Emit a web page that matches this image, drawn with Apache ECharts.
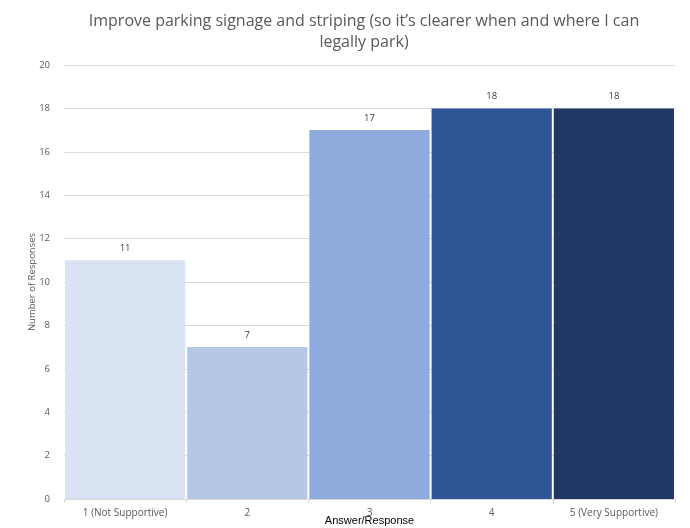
<!DOCTYPE html>
<html><head><meta charset="utf-8">
<script src="https://cdn.jsdelivr.net/npm/echarts@6/dist/echarts.min.js"></script>
<style>html,body{margin:0;padding:0;background:#fff}#c{width:690px;height:528px}</style>
</head><body><div id="c"></div>
<script>
const categories = ['1 (Not Supportive)', '2', '3', '4', '5 (Very Supportive)'];
const values = [11, 7, 17, 18, 18];
const colors = ['#DAE3F3', '#B4C7E7', '#8FAADC', '#2F5597', '#203864'];
const titleText = 'Improve parking signage and striping (so it\u2019s clearer when and where I can\nlegally park)';
const chart = echarts.init(document.getElementById('c'));
chart.setOption({
  animation: false,
  title: {
    text: titleText, left: 359, top: 6, textAlign: 'center',
    textStyle: { fontFamily: 'Open Sans', fontWeight: 'normal', fontSize: 16, color: '#595959', lineHeight: 21 }
  },
  grid: { left: 64, right: 15, top: 65, bottom: 29, containLabel: false, outerBoundsMode: 'none' },
  xAxis: {
    type: 'category', data: categories,
    name: 'Answer/Response', nameLocation: 'middle', nameGap: 22, nameMoveOverlap: false,
    nameTextStyle: { fontFamily: 'Liberation Sans', fontSize: 11, color: '#000', verticalAlign: 'middle' },
    axisLine: { lineStyle: { color: '#d9d9d9' } },
    axisTick: { show: true, alignWithLabel: false, length: 4, lineStyle: { color: '#d9d9d9' } },
    axisLabel: { fontFamily: 'Open Sans', fontSize: 10, color: '#595959', margin: 9 }
  },
  yAxis: {
    type: 'value', min: 0, max: 20, interval: 2,
    name: 'Number of Responses', nameLocation: 'middle', nameGap: 27, nameMoveOverlap: false,
    nameTextStyle: { fontFamily: 'Open Sans', fontSize: 9.5, color: '#595959' },
    axisLine: { show: false }, axisTick: { show: false },
    axisLabel: { fontFamily: 'Open Sans', fontSize: 9.5, color: '#595959', margin: 14 },
    splitLine: { lineStyle: { color: '#d9d9d9' } }
  },
  series: [{
    type: 'bar', barCategoryGap: '1.6%',
    data: values.map((v, i) => ({ value: v, itemStyle: { color: colors[i] } })),
    label: { show: true, position: 'top', distance: 7, fontFamily: 'Open Sans', fontSize: 9.5, color: '#404040' }
  }]
});
</script></body></html>
